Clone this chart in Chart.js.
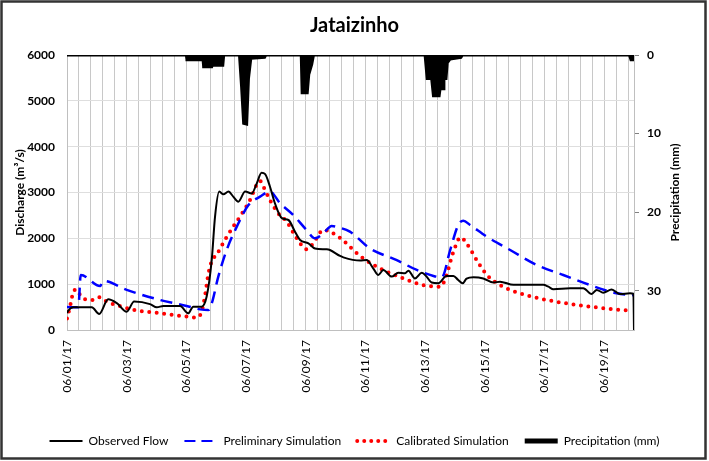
<!DOCTYPE html>
<html>
<head>
<meta charset="utf-8">
<script src="https://cdn.jsdelivr.net/npm/chart.js@4.4.1/dist/chart.umd.min.js"></script>
<style>
  body { margin: 0; background: #fff; }
</style>
</head>
<body>
<canvas id="myChart" width="709" height="461"></canvas>
<script>
// x values are days since 06/01/17 00:00
const dateLabels = ['06/01/17', '06/02/17', '06/03/17', '06/04/17', '06/05/17', '06/06/17', '06/07/17',
                    '06/08/17', '06/09/17', '06/10/17', '06/11/17', '06/12/17', '06/13/17', '06/14/17',
                    '06/15/17', '06/16/17', '06/17/17', '06/18/17', '06/19/17', '06/20/17'];

const obsDays = [0, 0.04, 0.21, 0.83, 1.08, 1.38, 1.67, 2.0, 2.25, 2.78, 3.01, 3.23, 3.79, 4.06, 4.23, 4.51,
                 4.68, 4.85, 4.96, 5.10, 5.24, 5.41, 5.57, 5.74, 5.97, 6.19, 6.36, 6.52, 6.64, 6.80, 6.97,
                 7.20, 7.42, 7.64, 7.81, 8.09, 8.31, 8.70, 8.81, 9.15, 9.26, 9.82, 10.04, 10.26, 10.43,
                 10.60, 10.88, 11.10, 11.33, 11.44, 11.66, 11.89, 12.05, 12.22, 12.44, 12.72, 12.95, 13.11,
                 13.26, 13.39, 13.62, 13.95, 14.29, 14.51, 14.96, 15.52, 15.96, 16.13, 16.30, 16.86, 17.30,
                 17.58, 17.75, 17.97, 18.25, 18.53, 18.87, 18.98, 19.0];
const obsFlow = [370, 420, 495, 495, 350, 670, 585, 400, 620, 565, 495, 525, 525, 365, 510, 510,
                 730, 1530, 2470, 3020, 2960, 3020, 2910, 2800, 3020, 2980, 3200, 3430, 3400, 3130, 2760,
                 2440, 2400, 2145, 1965, 1890, 1780, 1760, 1745, 1615, 1585, 1515, 1525, 1345, 1200,
                 1310, 1165, 1250, 1240, 1295, 1125, 1250, 1165, 1035, 1020, 1180, 1180, 1090,
                 1020, 1120, 1150, 1125, 1035, 1055, 985, 985, 985, 945, 890, 910, 910,
                 785, 875, 815, 885, 785, 800, 790, 0];

const prelimDays = [0, 0.38, 0.46, 1.11, 1.22, 2.0, 3.12, 4.01, 4.46, 4.74, 4.85, 5.07, 5.35, 5.69, 6.08,
                    6.47, 6.80, 7.14, 7.58, 8.03, 8.31, 8.59, 8.87, 9.09, 9.48, 10.15, 11.05, 11.72, 12.28,
                    12.56, 12.84, 13.11, 13.28, 13.51, 14.07, 14.85, 15.74, 16.63, 17.53, 18.42, 19.0];
const prelimFlow = [500, 495, 1200, 960, 1070, 875, 655, 525, 450, 435, 580, 1165, 1745, 2255, 2725,
                    2910, 3020, 2765, 2510, 2180, 2000, 2110, 2270, 2240, 2145, 1780, 1525, 1310, 1180,
                    1150, 1745, 2290, 2385, 2290, 2035, 1745, 1420, 1200, 980, 800, 760];

const calibDays = [0, 0.10, 0.16, 0.21, 0.33, 0.46, 0.71, 0.88, 1.08, 1.33, 1.83, 2.28, 3.12, 4.06, 4.37,
                   4.51, 4.62, 4.74, 4.85, 5.02, 5.29, 5.57, 5.85, 6.13, 6.41, 6.47, 6.58, 6.80, 7.08, 7.36,
                   7.70, 8.03, 8.25, 8.59, 8.81, 9.09, 9.26, 9.82, 10.49, 11.22, 11.94, 12.50, 12.67, 12.95,
                   13.19, 13.39, 13.73, 14.07, 14.51, 15.18, 15.96, 16.75, 17.53, 18.31, 18.80];
const calibFlow = [250, 510, 690, 855, 875, 740, 655, 655, 715, 620, 510, 435, 365, 290, 270,
                   400, 730, 1235, 1500, 1650, 1965, 2255, 2525, 2835, 3230, 3250, 3130, 2835, 2545, 2365,
                   2000, 1760, 1890, 2180, 2145, 2035, 1950, 1615, 1345, 1140, 980, 945, 1105, 1710,
                   2020, 1890, 1525, 1200, 980, 800, 670, 580, 510, 450, 430];

const rainDays = [0, 4.0, 4.02, 4.56, 4.58, 4.85, 4.87, 5.22, 5.25, 5.78, 5.85, 5.92, 6.02, 6.08, 6.16,
                  6.62, 6.66, 7.85, 7.88, 8.05, 8.10, 8.20, 8.26, 12.0, 12.07, 12.22, 12.28, 12.47, 12.5,
                  12.6, 12.63, 12.7, 12.74, 12.84, 13.2, 13.25, 18.85, 18.9, 19.0];
const rainMm = [0, 0, 0.6, 0.6, 1.5, 1.5, 1.3, 1.3, 0, 0, 4, 8.7, 8.8, 3, 0.4,
                0.3, 0, 0, 4.8, 4.8, 2.5, 1.2, 0, 0, 3, 3, 5.2, 5.2, 4.3,
                4.3, 3, 3, 1, 0.5, 0.3, 0, 0, 0.6, 0.6];

const toPoints = (xs, ys) => xs.map((x, i) => ({ x: x, y: ys[i] }));

const font = 'Lato';

// outer frame + right axis title (Excel reads it bottom-to-top, Chart.js would flip it)
const frame = {
    id: 'frame',
    afterDraw(chart) {
        const ctx = chart.ctx;
        const y2 = chart.scales.y2;
        ctx.save();
        ctx.strokeStyle = '#333';
        ctx.lineWidth = 2.5;
        ctx.strokeRect(1.5, 1.5, 704, 457);

        ctx.translate(675, (y2.top + y2.bottom) / 2);
        ctx.rotate(-Math.PI / 2);
        ctx.fillStyle = '#000';
        ctx.font = 'bold 12px ' + font;
        ctx.textAlign = 'center';
        ctx.textBaseline = 'middle';
        ctx.fillText('Precipitation (mm)', 0, 0);
        ctx.restore();
    }
};

new Chart(document.getElementById('myChart').getContext('2d'), {
    type: 'line',
    data: {
        datasets: [
            {
                label: 'Observed Flow',
                data: toPoints(obsDays, obsFlow),
                borderColor: '#000',
                borderWidth: 2,
                pointRadius: 0,
                cubicInterpolationMode: 'monotone',
                yAxisID: 'y'
            },
            {
                label: 'Preliminary Simulation',
                data: toPoints(prelimDays, prelimFlow),
                borderColor: '#0000ff',
                borderWidth: 2.5,
                borderDash: [12, 7],
                pointRadius: 0,
                cubicInterpolationMode: 'monotone',
                yAxisID: 'y'
            },
            {
                label: 'Calibrated Simulation',
                data: toPoints(calibDays, calibFlow),
                borderColor: '#ff0000',
                borderWidth: 4,
                borderDash: [0, 7.5],
                borderCapStyle: 'round',
                pointRadius: 0,
                cubicInterpolationMode: 'monotone',
                yAxisID: 'y'
            },
            {
                label: 'Precipitation (mm)',
                data: toPoints(rainDays, rainMm),
                borderColor: '#000',
                backgroundColor: '#000',
                borderWidth: 3,
                pointRadius: 0,
                fill: 'origin',
                tension: 0,
                yAxisID: 'y2'
            }
        ]
    },
    options: {
        responsive: false,
        animation: false,
        devicePixelRatio: 1,
        layout: { padding: { left: 0, right: 0, top: 0, bottom: 4 } },
        plugins: {
            title: {
                display: true,
                text: 'Jataizinho',
                color: '#000',
                font: { family: font, size: 20, weight: 'bold', lineHeight: 1.2 },
                padding: { top: 14, bottom: 17 }
            },
            legend: {
                position: 'bottom',
                labels: {
                    color: '#000',
                    font: { family: font, size: 12 },
                    padding: 16,
                    usePointStyle: true,
                    pointStyleWidth: 33,
                    generateLabels(chart) {
                        return chart.data.datasets.map((ds, i) => ({
                            text: ds.label,
                            datasetIndex: i,
                            pointStyle: 'line',
                            strokeStyle: ds.borderColor,
                            fillStyle: ds.borderColor,
                            lineWidth: i === 3 ? 5 : (i === 2 ? 4 : 2),
                            lineDash: i === 1 ? [11, 6] : (i === 2 ? [0, 7] : []),
                            lineCap: i === 2 ? 'round' : 'butt',
                            fontColor: '#000'
                        }));
                    }
                }
            },
            tooltip: { enabled: false }
        },
        scales: {
            x: {
                type: 'linear',
                min: 0,
                max: 19,
                afterBuildTicks(scale) {
                    const t = [];
                    for (let i = 0; i <= 47; i++) t.push({ value: i * 0.4 });
                    scale.ticks = t;
                },
                afterFit(scale) { scale.height = 89; },
                grid: { color: '#c8c8c8', drawTicks: false },
                border: { color: '#bfbfbf' },
                ticks: {
                    autoSkip: false,
                    minRotation: 90,
                    maxRotation: 90,
                    padding: 10,
                    color: '#000',
                    font: { family: font, size: 12 },
                    callback(v) {
                        const d = Math.round(v);
                        if (Math.abs(v - d) < 1e-6 && d % 2 === 0) return dateLabels[d];
                        return '';
                    }
                }
            },
            y: {
                position: 'left',
                min: 0,
                max: 6000,
                afterFit(scale) { scale.width = 67; },
                grid: { color: '#dedede', drawTicks: false },
                border: { color: '#bfbfbf' },
                ticks: {
                    stepSize: 1000,
                    includeBounds: false,
                    padding: 12,
                    color: '#000',
                    font: { family: font, size: 12, weight: 'bold' },
                    callback: (v) => String(v)
                },
                title: {
                    display: true,
                    text: 'Discharge (m³/s)',
                    color: '#000',
                    font: { family: font, size: 12, weight: 'bold' },
                    padding: { top: 13, bottom: 0 }
                }
            },
            y2: {
                position: 'right',
                reverse: true,
                min: 0,
                max: 35,
                afterFit(scale) { scale.width = 75; },
                grid: { drawOnChartArea: false, drawTicks: true, tickLength: 5, color: '#808080' },
                border: { color: '#bfbfbf' },
                ticks: {
                    stepSize: 10,
                    includeBounds: false,
                    padding: 8,
                    color: '#000',
                    font: { family: font, size: 12, weight: 'bold' },
                    callback: (v) => String(v)
                }
            }
        }
    },
    plugins: [frame]
});
</script>
</body>
</html>
